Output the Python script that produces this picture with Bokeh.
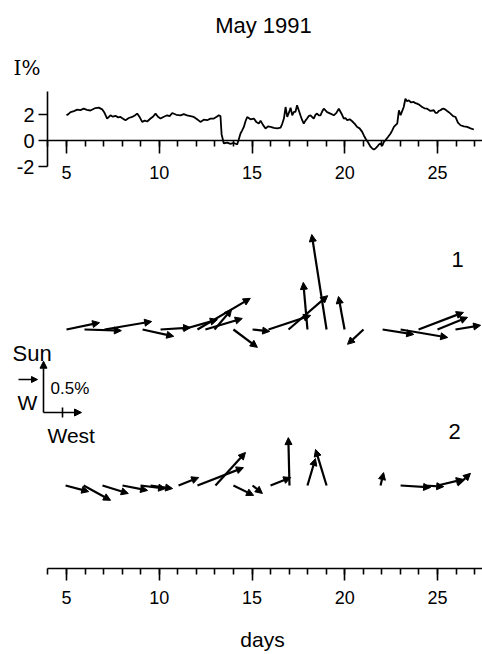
from bokeh.plotting import figure
from bokeh.models import (Range1d, SingleIntervalTicker, FixedTicker, Label, LinearAxis,
                          Arrow, NormalHead, ColumnDataSource)
from bokeh.embed import file_html
from bokeh.resources import INLINE

# ---------------- data ----------------
title_text = "May 1991"
days_I = [5.00, 5.10, 5.22, 5.40, 5.58, 5.75, 5.93, 6.10, 6.29, 6.45, 6.56, 6.74, 6.92, 7.05,
          7.19, 7.37, 7.50, 7.64, 7.78, 7.91, 8.05, 8.18, 8.36, 8.54, 8.68, 8.81, 8.95, 9.08,
          9.22, 9.35, 9.53, 9.66, 9.80, 9.93, 10.07, 10.25, 10.43, 10.56, 10.70, 10.92, 11.15,
          11.32, 11.50, 11.68, 11.86, 12.04, 12.22, 12.40, 12.58, 12.76, 12.94, 13.10, 13.21,
          13.30, 13.36, 13.48, 13.66, 13.84, 14.02, 14.20, 14.29, 14.38, 14.47, 14.56, 14.65,
          14.74, 14.92, 15.10, 15.23, 15.37, 15.46, 15.60, 15.73, 15.86, 16.00, 16.18, 16.36,
          16.54, 16.63, 16.72, 16.81, 16.90, 17.00, 17.08, 17.17, 17.26, 17.34, 17.43, 17.52,
          17.61, 17.70, 17.79, 17.88, 17.97, 18.06, 18.15, 18.24, 18.33, 18.42, 18.51, 18.60,
          18.69, 18.78, 18.87, 19.05, 19.23, 19.41, 19.55, 19.68, 19.82, 19.95, 20.04, 20.13,
          20.27, 20.40, 20.54, 20.67, 20.80, 20.94, 21.03, 21.12, 21.26, 21.39, 21.48, 21.57,
          21.66, 21.75, 21.84, 21.93, 22.02, 22.11, 22.20, 22.34, 22.47, 22.56, 22.65, 22.74,
          22.83, 22.92, 23.01, 23.10, 23.18, 23.27, 23.36, 23.45, 23.58, 23.72, 23.81, 23.90,
          24.04, 24.17, 24.30, 24.44, 24.62, 24.80, 24.89, 24.98, 25.07, 25.16, 25.25, 25.34,
          25.43, 25.52, 25.61, 25.70, 25.84, 25.97, 26.10, 26.24, 26.42, 26.60, 26.78, 26.96]
I_pct = [1.96, 2.05, 2.20, 2.28, 2.40, 2.36, 2.47, 2.38, 2.33, 2.45, 2.52, 2.55, 2.42, 2.15,
         1.71, 1.96, 1.85, 1.92, 1.80, 1.83, 1.70, 1.58, 1.75, 1.83, 1.95, 2.09, 1.80, 1.45,
         1.55, 1.48, 1.71, 1.85, 2.09, 1.85, 1.71, 1.85, 1.96, 1.90, 2.14, 2.00, 1.96,
         2.05, 1.96, 1.90, 1.83, 1.65, 1.45, 1.62, 1.58, 1.70, 1.71, 1.85, 1.96,
         1.90, 0.50, -0.22, -0.15, -0.25, -0.18, -0.30, 0.10, 0.55, 0.80, 1.06, 1.50,
         1.83, 1.65, 1.71, 1.45, 1.32, 1.55, 1.20, 0.94, 1.10, 1.06, 0.98, 0.94,
         1.00, 1.30, 1.71, 2.60, 1.83, 2.20, 2.55, 1.96, 2.22, 2.22, 2.73, 2.35,
         1.96, 1.60, 1.32, 1.55, 1.71, 1.90, 1.96, 1.83, 1.71, 2.00, 2.09, 1.96,
         1.96, 2.25, 2.47, 2.20, 2.09, 1.96, 2.15, 2.47, 2.10, 1.71, 1.75, 1.58,
         1.65, 1.50, 1.30, 1.06, 0.95, 0.68, 0.40, 0.17, -0.15, -0.47, -0.60, -0.68,
         -0.60, -0.47, -0.30, -0.22, -0.40, -0.10, 0.04, 0.30, 0.55, 0.80, 1.06, 1.20,
         1.32, 2.35, 1.96, 2.30, 2.60, 3.24, 3.05, 3.12, 2.95, 2.99, 2.90, 2.86,
         2.75, 2.60, 2.50, 2.47, 2.30, 2.35, 2.15, 2.14, 2.30, 2.35, 2.45, 2.47,
         2.40, 2.29, 2.20, 2.09, 1.90, 1.83, 1.40, 1.19, 1.10, 1.06, 0.95, 0.86]

# polarization vectors: tail day, West component (%), Sun component (%)
row1_day = [5.00, 5.97, 7.05, 9.10, 10.07, 11.25, 12.06, 12.98, 12.49, 14.00, 15.03,
            15.89, 16.97, 17.99, 19.02, 19.99, 21.01, 22.04, 23.01, 23.98, 25.00, 25.97]
row1_west = [0.87, 0.97, 1.24, 0.82, 0.79, 0.92, 1.39, 0.45, 0.97, 0.63, 0.45,
             1.11, 1.03, -0.11, -0.39, -0.16, -0.42, 0.82, 1.24, 1.18, 0.79, 0.66]
row1_sun = [0.18, -0.03, 0.21, -0.18, 0.05, 0.26, 0.82, 0.53, 0.29, -0.47, -0.05,
            0.37, 0.89, 1.24, 2.50, 0.87, -0.39, -0.13, -0.21, 0.45, 0.32, 0.11]
row2_day = [4.95, 5.92, 6.94, 8.02, 8.99, 9.53, 11.04, 12.06, 13.03, 14.00, 15.03,
            16.00, 17.02, 17.99, 19.02, 21.93, 23.01, 24.25, 25.00, 26.08]
row2_west = [0.61, 0.71, 0.68, 0.66, 0.66, 0.58, 0.53, 1.21, 0.79, 0.53, 0.26,
             0.53, -0.03, 0.21, -0.29, 0.08, 0.79, 0.53, 0.68, 0.34]
row2_sun = [-0.16, -0.39, -0.21, -0.13, -0.08, -0.08, 0.21, 0.47, 0.87, -0.26, -0.21,
            0.21, 1.26, 0.71, 0.95, 0.34, -0.05, -0.03, 0.16, 0.32]
row_labels = ["1", "2"]
legend_scale = 0.5      # % marked on the West axis of the key
legend_sun_len = 1.35   # % length of the key arrows
legend_west_len = 1.0
y_ticks = [-2, 0, 2]
day_tick_interval = 5

# ---------------- layout ----------------
SANS = "Liberation Sans"
SERIF = "DejaVu Serif"
FIG_W, FIG_H = 482, 654
PPD = 18.55            # pixels per day
PX_PER_PCT = 38.0      # vector scale, pixels per %

def dx(px):            # canvas px -> day
    return 5 + (px - 66) / PPD

def vy(py):            # canvas py -> main y units (%)
    return (FIG_H - py) / PX_PER_PCT

AX_LEFT, AX_RIGHT = dx(47), dx(FIG_W)
# intensity panel: -2 at py 166, 3.8 at py 91
Y_LO, Y_HI = -2.0, 3.8
I_TOP_PX, I_BOT_PX = 91, 166
I_PPU = (I_BOT_PX - I_TOP_PX) / (Y_HI - Y_LO)
I_ZERO_PX = I_BOT_PX + Y_LO * I_PPU

p = figure(width=FIG_W, height=FIG_H, x_range=Range1d(dx(0), dx(FIG_W)),
           y_range=Range1d(0, FIG_H / PX_PER_PCT), output_backend="svg",
           toolbar_location=None, x_axis_location=None, y_axis_location=None,
           min_border_left=0, min_border_right=0, min_border_top=0, min_border_bottom=0)
p.outline_line_color = None
p.grid.visible = False
p.extra_y_ranges = {"I": Range1d(Y_LO - (FIG_H - I_BOT_PX) / I_PPU, Y_HI + I_TOP_PX / I_PPU)}


def style_axis(ax, tick_out, minor_out, font_px, standoff):
    ax.axis_line_width = 1.6
    ax.axis_line_color = "black"
    ax.major_tick_line_width = 1.6
    ax.minor_tick_line_width = 1.6
    ax.major_tick_line_color = "black"
    ax.minor_tick_line_color = "black"
    ax.major_tick_out = tick_out
    ax.major_tick_in = 0
    ax.minor_tick_out = minor_out
    ax.minor_tick_in = 0
    ax.major_label_text_font = SANS
    ax.major_label_text_font_size = f"{font_px}px"
    ax.major_label_text_color = "black"
    ax.major_label_standoff = standoff


xa_top = LinearAxis(ticker=SingleIntervalTicker(interval=day_tick_interval, num_minor_ticks=5),
                    fixed_location=vy(I_ZERO_PX), bounds=(AX_LEFT, AX_RIGHT))
style_axis(xa_top, 13, 6, 18, 12)
p.add_layout(xa_top, "below")

ya_top = LinearAxis(y_range_name="I", ticker=FixedTicker(ticks=y_ticks),
                    fixed_location=AX_LEFT, bounds=(Y_LO, Y_HI),
                    major_label_overrides={t: str(t) for t in y_ticks})
style_axis(ya_top, 9, 0, 20, 4)
p.add_layout(ya_top, "left")

xa_bot = LinearAxis(ticker=SingleIntervalTicker(interval=day_tick_interval, num_minor_ticks=5),
                    fixed_location=vy(568), bounds=(AX_LEFT, AX_RIGHT))
style_axis(xa_bot, 12, 6, 18, 10)
p.add_layout(xa_bot, "below")

# intensity curve
p.line(days_I, I_pct, y_range_name="I", line_width=1.8, color="black")

# vector rows
ROW_BASE = [vy(329), vy(485)]
K = PX_PER_PCT / PPD    # days per % horizontally
head = dict(fill_color="black", line_color="black", line_width=1)
for base, d, w, s in [(ROW_BASE[0], row1_day, row1_west, row1_sun),
                      (ROW_BASE[1], row2_day, row2_west, row2_sun)]:
    src = ColumnDataSource(dict(
        x0=d, y0=[base] * len(d),
        x1=[di + wi * K for di, wi in zip(d, w)],
        y1=[base + si for si in s]))
    p.add_layout(Arrow(end=NormalHead(size=7, **head),
                       x_start="x0", y_start="y0", x_end="x1", y_end="y1",
                       source=src, line_width=2.2, line_color="black"))

# key
ox, oy = dx(43), vy(412)
p.add_layout(Arrow(end=NormalHead(size=7, **head), x_start=ox, y_start=oy,
                   x_end=ox, y_end=oy + legend_sun_len, line_width=1.6, line_color="black"))
p.add_layout(Arrow(end=NormalHead(size=7, **head), x_start=ox, y_start=oy,
                   x_end=ox + legend_west_len * K, y_end=oy, line_width=1.6, line_color="black"))
p.segment(x0=[ox + legend_scale * K], y0=[oy - 5 / PX_PER_PCT],
          x1=[ox + legend_scale * K], y1=[oy + 5 / PX_PER_PCT], line_width=1.6, color="black")
p.add_layout(Arrow(end=NormalHead(size=6, **head), x_start=dx(18), y_start=vy(379),
                   x_end=dx(37), y_end=vy(379), line_width=1.5, line_color="black"))

# texts (py = wanted baseline; the renderer draws the baseline ~0.4 em lower)
texts = [
    (title_text, 263, 34, "center", SANS, 22),
    ("I%", 13, 75, "left", SERIF, 20),
    ("Sun", 12, 362, "left", SANS, 22),
    ("W", 17, 410, "left", SANS, 21),
    (f"{legend_scale}%", 50, 395, "left", SANS, 17),
    ("West", 47, 443, "left", SANS, 21),
    (row_labels[0], 457, 268, "center", SANS, 22),
    (row_labels[1], 454, 440, "center", SANS, 22),
    ("days", 262, 647, "center", SANS, 21),
]
for txt, px, py, align, font, fs in texts:
    p.add_layout(Label(x=dx(px), y=vy(py - 0.4 * fs), text=txt, text_align=align,
                       text_baseline="alphabetic", text_font=font,
                       text_font_size=f"{fs}px", text_color="black"))

open("out.html", "w").write(file_html(p, INLINE))
